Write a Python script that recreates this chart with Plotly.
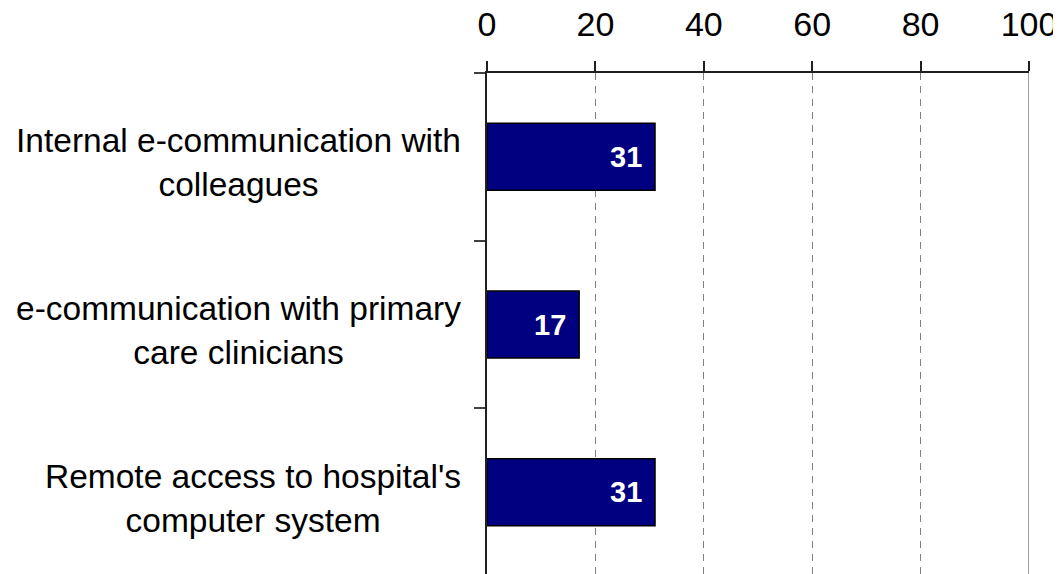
import plotly.graph_objects as go

categories = [
    "Internal e-communication with<br>colleagues",
    "e-communication with primary<br>care clinicians",
    "Remote access to hospital's<br>computer system",
]
values = [31, 17, 31]
tick_vals = [0, 20, 40, 60, 80, 100]
tick_text = ["0", "20", "40", "60", "80", "100"]

FONT = "Liberation Sans, Arial, sans-serif"

fig = go.Figure()
fig.add_trace(go.Bar(
    x=values,
    y=categories,
    orientation="h",
    width=0.4,
    marker=dict(color="#000080", line=dict(color="#000000", width=1.5)),
    hoverinfo="skip",
))

annotations = []
for c, v in zip(categories, values):
    annotations.append(dict(
        x=v, y=c, xref="x", yref="y", text=f"<b>{v}</b>", showarrow=False,
        xanchor="right", yanchor="middle", xshift=-11,
        font=dict(family=FONT, size=29, color="white"),
    ))
    annotations.append(dict(
        x=0, y=c, xref="paper", yref="y", text=c, showarrow=False,
        xanchor="right", yanchor="middle", align="center", xshift=-24, yshift=-6,
        font=dict(family=FONT, size=33.5, color="black"),
    ))

fig.update_layout(
    width=1061, height=574,
    margin=dict(l=479, r=40, t=65, b=6, autoexpand=False),
    plot_bgcolor="white", paper_bgcolor="white",
    showlegend=False,
    annotations=annotations,
    shapes=[dict(type="line", xref="x", yref="paper", x0=100, x1=100, y0=0, y1=1,
                 line=dict(color="#808080", width=1.5))],
    xaxis=dict(
        side="top", range=[0, 100], tickvals=tick_vals, ticktext=tick_text,
        automargin=False,
        showgrid=True, gridcolor="#808080", gridwidth=1, griddash="7px,6px",
        zeroline=False, showline=True, linecolor="#202020", linewidth=1.5,
        ticks="outside", ticklen=10, tickcolor="#202020", tickwidth=1.5,
        ticklabelstandoff=12,
        tickfont=dict(family=FONT, size=34, color="black"),
    ),
    yaxis=dict(
        type="category", categoryorder="array", categoryarray=categories,
        range=[2.5, -0.5], tickson="boundaries", automargin=False,
        showticklabels=False, ticks="outside", ticklen=11, tickcolor="#404040", tickwidth=1.5,
        showgrid=False, zeroline=False, showline=True, linecolor="#202020", linewidth=1.5,
    ),
)

fig.write_html("out.html")
